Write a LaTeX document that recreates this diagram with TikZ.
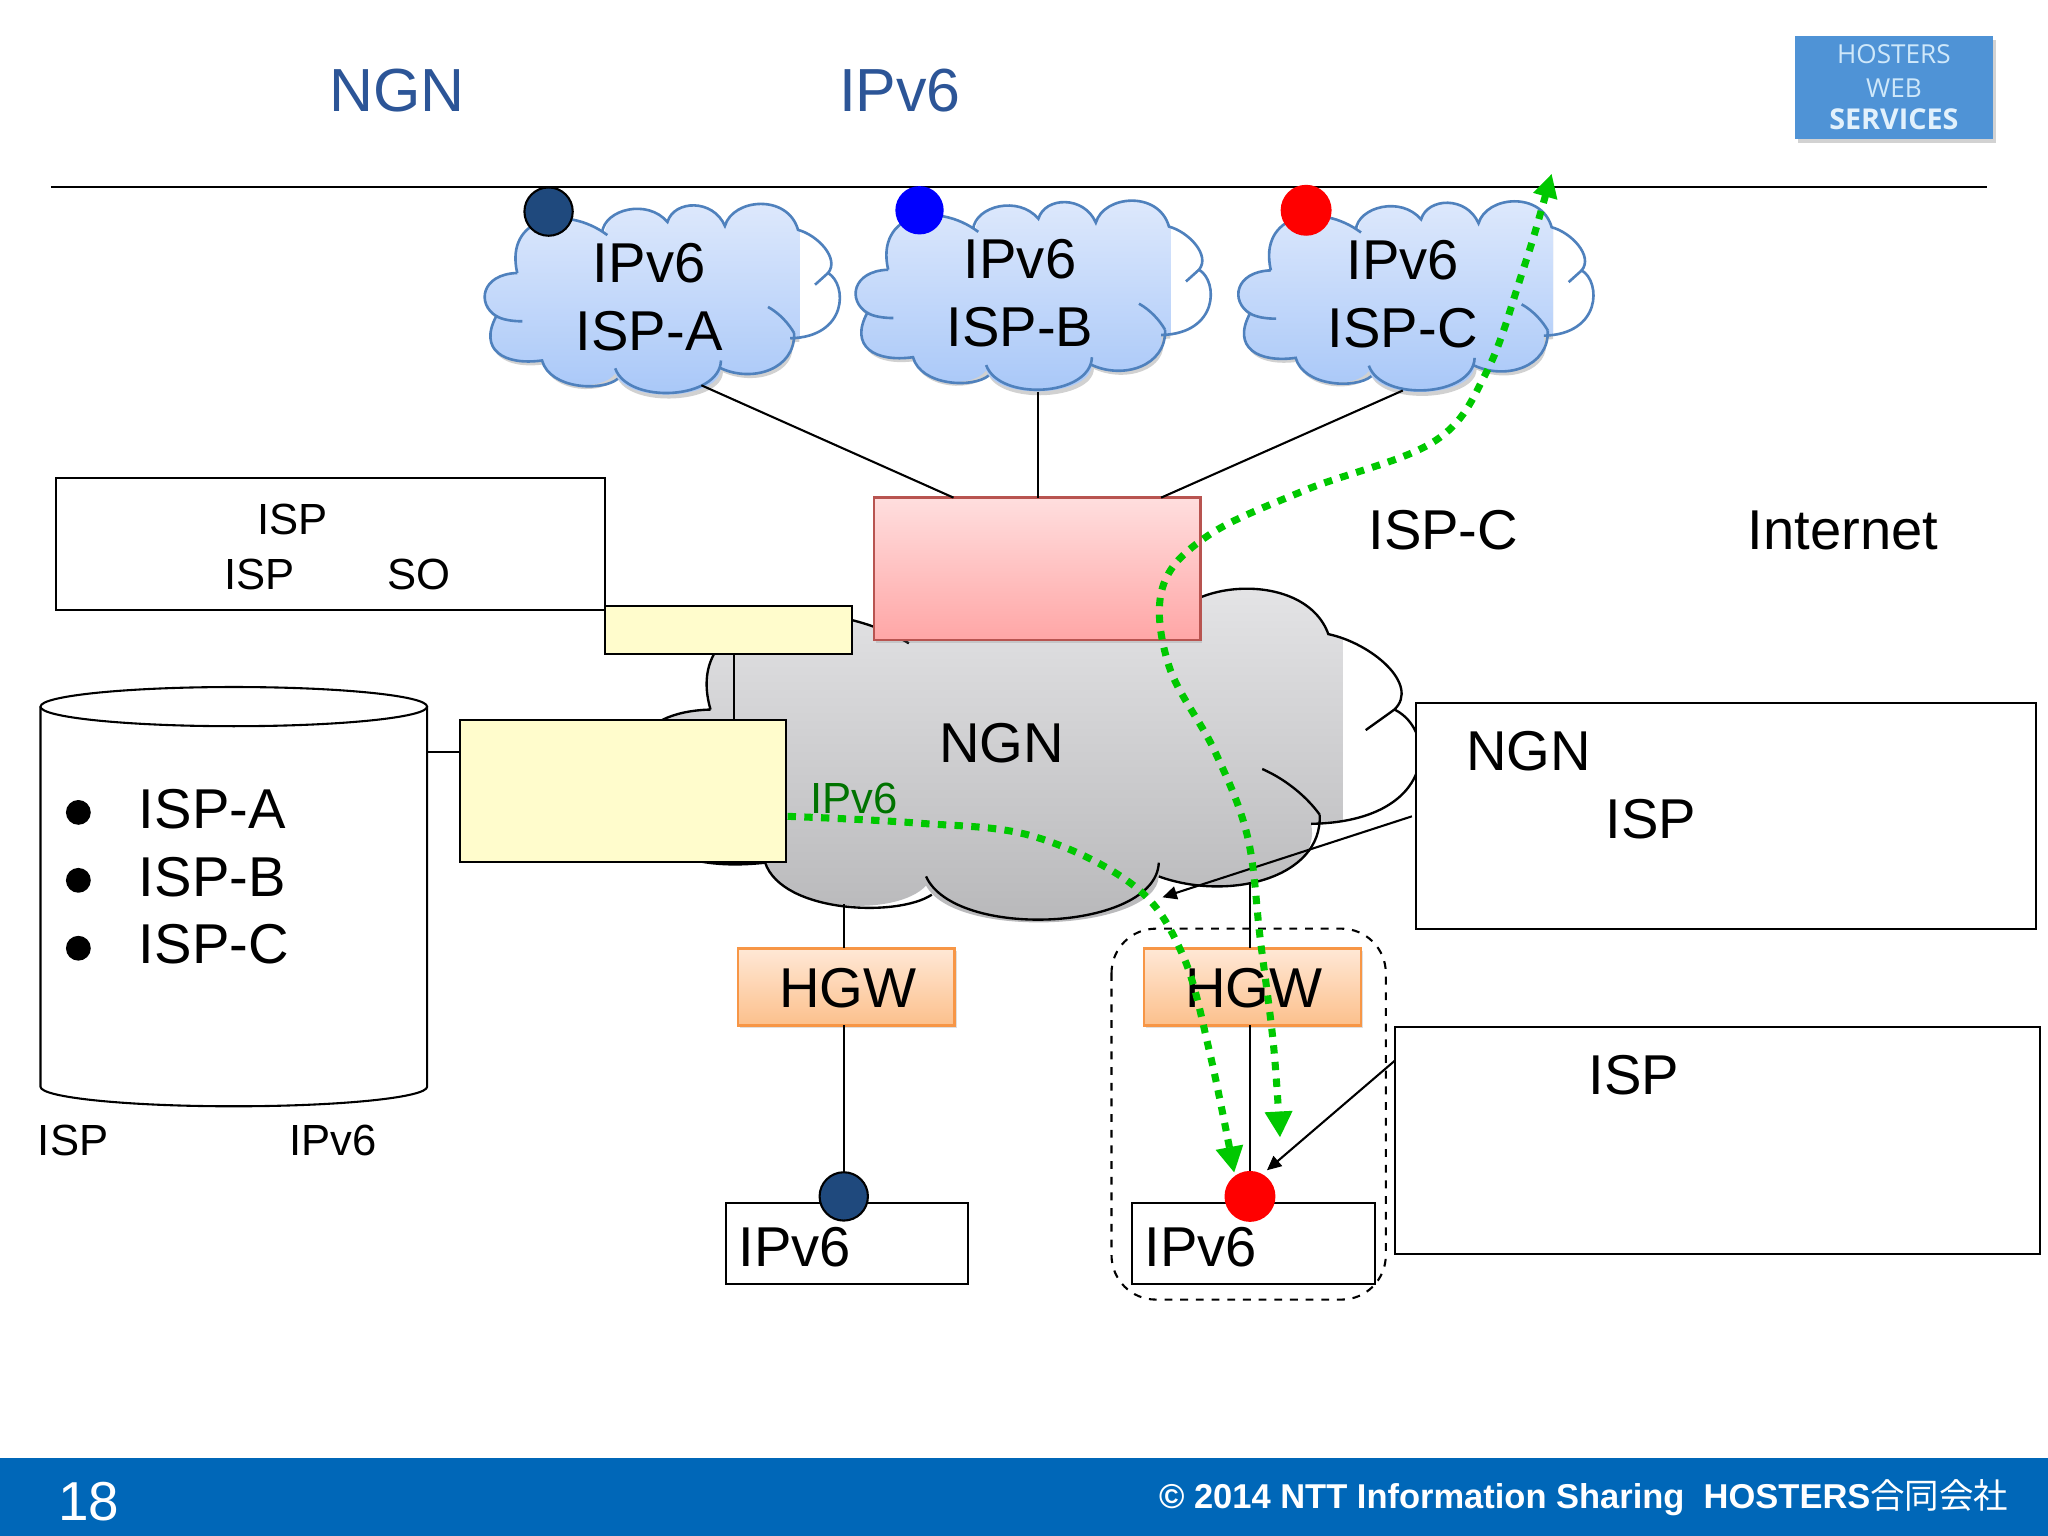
\documentclass[tikz,border=0pt]{standalone}
\usepackage{fontspec}
\setmainfont{Liberation Sans}
\newfontfamily\cjkjp{Noto Sans CJK JP}
\newfontfamily\logofont{Open Sans}
\usetikzlibrary{arrows.meta,shadows,calc}
\newcommand{\cloudshape}{(25,51)
 .. controls (15,8) and (62,-2) .. (94,22)
 (90,20) .. controls (92,2) and (125,-6) .. (140,12)
 .. controls (145,-5) and (175,-6) .. (184,15)
 .. controls (190,-6) and (232,-10) .. (240,18)
 .. controls (255,22) and (272,40) .. (263,51)
 .. controls (278,60) and (278,100) .. (234,101)
 (237,97) .. controls (238,125) and (205,135) .. (181,124)
 (181,118) .. controls (180,148) and (110,152) .. (100,124)
 (102,132) .. controls (90,142) and (50,140) .. (44,118)
 .. controls (15,122) and (-5,110) .. (9,84)
 .. controls (-6,75) and (-3,52) .. (25,51)}
\newcommand{\cloudfillshape}{(25,51)
 .. controls (15,8) and (62,-2) .. (92,21)
 .. controls (92,2) and (125,-6) .. (140,12)
 .. controls (145,-5) and (175,-6) .. (184,15)
 .. controls (190,-6) and (232,-10) .. (240,18)
 .. controls (255,22) and (272,40) .. (263,51)
 .. controls (278,60) and (278,100) .. (234,101)
 .. controls (238,125) and (205,135) .. (181,124)
 .. controls (180,148) and (110,152) .. (100,128)
 .. controls (90,142) and (50,140) .. (44,118)
 .. controls (15,122) and (-5,110) .. (9,84)
 .. controls (-6,75) and (-3,52) .. (25,51) -- cycle}
\newcommand{\cloudticks}{(217,77) .. controls (226,82) and (233,90) .. (237,97)
 (29,88) .. controls (22,88) and (14,87) .. (9,84)
 (253,60) -- (263,51)}
\tikzset{
 x=0.5pt,y=-0.5pt,
 plainbox/.style={draw=black,line width=.8pt,fill=white,inner sep=0pt,outer sep=0pt},
 yellowbox/.style={plainbox,fill=yellow!20!white},
 txtL/.style={anchor=base,inner sep=0pt,font=\fontsize{21.5}{24}\selectfont},
 txtLw/.style={anchor=base west,inner sep=0pt,font=\fontsize{21.5}{24}\selectfont},
 txtS/.style={anchor=base,inner sep=0pt,font=\fontsize{16.7}{20}\selectfont},
 title/.style={anchor=base,inner sep=0pt,font=\fontsize{23.3}{26}\selectfont,text=titleblue},
 hgwbox/.style={draw=hgwedge,line width=1pt,top color=hgwtop,bottom color=hgwbot,inner sep=0pt,outer sep=0pt,
   minimum width=83pt,minimum height=29.5pt,drop shadow={shadow xshift=.8pt,shadow yshift=-1.2pt,opacity=.25}},
 wire/.style={draw=black,line width=.8pt},
 thinarrow/.style={wire,-{Triangle[length=5.5pt,width=5pt]}},
 greenpath/.style={draw=flowgreen,line width=2.7pt,dash pattern=on 3.2pt off 3.2pt},
 dot/.style={circle,inner sep=0pt,outer sep=0pt},
}
\definecolor{titleblue}{HTML}{2C5597}
\definecolor{navy}{HTML}{1F497D}
\definecolor{hgwedge}{HTML}{F79646}
\definecolor{hgwtop}{HTML}{FFE8D6}
\definecolor{hgwbot}{HTML}{FCC08C}
\definecolor{flowgreen}{HTML}{00C800}
\definecolor{cloudedge}{HTML}{4F81BD}
\definecolor{cloudtop}{HTML}{E0EAFC}
\definecolor{cloudbot}{HTML}{A6C6F8}
\definecolor{footblue}{HTML}{0067B8}
\definecolor{logoblue}{HTML}{4F93D6}
\definecolor{logotxt}{HTML}{CFE8FA}
\definecolor{pinkedge}{HTML}{B85450}
\definecolor{pinktop}{HTML}{FFDEDE}
\definecolor{pinkbot}{HTML}{FFA6A6}
\definecolor{ngntop}{HTML}{E6E6E8}
\definecolor{ngnbot}{HTML}{B6B6B8}
\newcommand{\bluecloud}[2]{%
 \begin{scope}[shift={(#1,#2)}]
  \begin{scope}
   \clip (-10,-20) rectangle (241,160);
   \fill[black,opacity=.18,shift={(1.5,3)}] \cloudfillshape;
   \path[top color=cloudtop,bottom color=cloudbot] \cloudfillshape;
  \end{scope}
  \draw[cloudedge,line width=1pt] \cloudshape;
  \draw[cloudedge,line width=1pt] \cloudticks;
 \end{scope}}
\begin{document}
\begin{tikzpicture}
\useasboundingbox (0,0) rectangle (1568,1176);
\fill[white] (0,0) rectangle (1568,1176);

% footer
\node[fill=footblue,minimum width=784pt,minimum height=30pt,inner sep=0pt,outer sep=0pt,anchor=north west] (footer) at (0,1116) {};
\node[anchor=base,inner sep=0pt,text=white,font=\fontsize{21}{24}\selectfont] (pageno) at (68,1164) {18};
\node[anchor=base east,inner sep=0pt,text=white,font=\bfseries\fontsize{13.2}{16}\selectfont] (copyright) at (1538,1155) {© 2014 NTT Information Sharing\ \ HOSTERS{\cjkjp\mdseries 合同会社}};

% titles
\node[title] (t1) at (304,85) {NGN};
\node[title] (t2) at (689,85) {IPv6};
\coordinate (ruleL) at (39,143.5);
\coordinate (ruleR) at (1521,143.5);
\draw[wire] (ruleL) -- (ruleR);

% logo
\node[fill=logoblue,minimum width=76pt,minimum height=39.5pt,inner sep=0pt,outer sep=0pt,
  drop shadow={shadow xshift=1.2pt,shadow yshift=-1.5pt,opacity=.35}] (logo) at (1450,67) {};
\node[anchor=base,inner sep=0pt,text=logotxt,font=\logofont\fontsize{10}{12}\selectfont] (logo1) at (1450,49) {HOSTERS};
\node[anchor=base,inner sep=0pt,text=logotxt,font=\logofont\fontsize{10}{12}\selectfont] (logo2) at (1450,75) {WEB};
\node[anchor=base,inner sep=0pt,text=logotxt!60!white,font=\logofont\bfseries\fontsize{11}{12}\selectfont] (logo3) at (1450,99) {SERVICES};

% NGN cloud
\begin{scope}[shift={(489,454)},xscale=2.2,yscale=1.75]
 \begin{scope}
  \clip (-10,-20) rectangle (245,160);
  \path[top color=ngntop,bottom color=ngnbot] \cloudfillshape;
 \end{scope}
 \draw[black,line width=.9pt] \cloudshape;
 \draw[black,line width=.9pt] \cloudticks;
\end{scope}

% small clouds
\bluecloud{371}{158}
\bluecloud{655}{155.5}
\bluecloud{948}{156}
\node[txtL] (ca1) at (497,216) {IPv6};
\node[txtL] (ca2) at (497,268) {ISP-A};
\node[txtL] (cb1) at (781,213) {IPv6};
\node[txtL] (cb2) at (781,265) {ISP-B};
\node[txtL] (cc1) at (1074,214) {IPv6};
\node[txtL] (cc2) at (1074,266) {ISP-C};
\node[dot,fill=navy,draw=black,line width=.8pt,minimum size=18.5pt] (dotA) at (420,162) {};
\node[dot,fill=blue,minimum size=18.5pt] (dotB) at (704,161) {};
\node[dot,fill=red,minimum size=19.5pt] (dotC) at (1000,161) {};

% pink router
\node[draw=pinkedge,line width=1pt,top color=pinktop,bottom color=pinkbot,inner sep=0pt,outer sep=0pt,
  minimum width=125pt,minimum height=54.5pt,drop shadow={shadow xshift=.8pt,shadow yshift=-1.2pt,opacity=.25}] (router) at (794,435.5) {};
\coordinate (footA) at (537,295);
\coordinate (footB) at (795,300);
\coordinate (footC) at (1074,299);
\coordinate (rA) at (730,381);
\coordinate (rB) at (795,381);
\coordinate (rC) at (889,381);
\draw[wire] (footA) -- (rA);
\draw[wire] (footB) -- (rB);
\draw[wire] (footC) -- (rC);

% boxes left
\node[plainbox,minimum width=210pt,minimum height=50.5pt] (ispbox) at (253,416.5) {};
\node[txtS] (i1) at (224,409) {ISP};
\node[txtS] (i2) at (199,451) {ISP};
\node[txtS] (i3) at (321,451) {SO};
\node[yellowbox,minimum width=94.5pt,minimum height=18.5pt] (ysmall) at (557.5,482.5) {};
\node[yellowbox,minimum width=125pt,minimum height=54.5pt] (ybig) at (477,605.5) {};
\coordinate (ysmallB) at (562,501);
\coordinate (ybigT) at (562,551);
\draw[wire] (ysmallB) -- (ybigT);

% database
\draw[wire,fill=white] (31,541) -- (31,832) arc[start angle=180,end angle=360,x radius=74pt,y radius=7.5pt] -- (327,541);
\draw[wire,fill=white] (179,541) ellipse[x radius=74pt,y radius=7.5pt];
\coordinate (dbport) at (327,576);
\coordinate (ybigL) at (352,576);
\draw[wire] (dbport) -- (ybigL);
\node[dot,fill=black,minimum size=9.5pt] (b1) at (60,622) {};
\node[dot,fill=black,minimum size=9.5pt] (b2) at (60,674) {};
\node[dot,fill=black,minimum size=9.5pt] (b3) at (60,726) {};
\node[txtLw] (l1) at (106,634) {ISP-A};
\node[txtLw] (l2) at (106,686) {ISP-B};
\node[txtLw] (l3) at (106,738) {ISP-C};
\node[txtS] (d1) at (56,885) {ISP};
\node[txtS] (d2) at (255,885) {IPv6};

% right side
\node[txtL] (tc) at (1105,421) {ISP-C};
\node[txtL] (tn) at (1411,421) {Internet};
\node[plainbox,minimum width=237.5pt,minimum height=86.5pt] (rbox1) at (1321.5,624.5) {};
\node[txtLw] (r1) at (1122,590) {NGN};
\node[txtLw] (r2) at (1229,642) {ISP};
\node[plainbox,minimum width=247pt,minimum height=87pt] (rbox2) at (1315,873) {};
\node[txtLw] (r3) at (1216,838) {ISP};
\node[txtL] (ngnlbl) at (767,584) {NGN};

% dashed group
\draw[black,line width=.8pt,dashed,rounded corners=17pt] (851,711) rectangle (1061,995);

% lower branch
\node[hgwbox] (hgw1) at (648,755.5) {};
\node[hgwbox] (hgw2) at (959,755.5) {};
\node[txtL] (h1) at (649,771) {HGW};
\node[txtL] (h2) at (960,771) {HGW};
\node[plainbox,minimum width=92.5pt,minimum height=31pt] (pc1) at (648.5,952) {};
\node[plainbox,minimum width=93pt,minimum height=31pt] (pc2) at (960,952) {};
\node[txtLw] (p1) at (565,970) {IPv6};
\node[txtLw] (p2) at (876,970) {IPv6};
\node[dot,fill=navy,draw=black,line width=.8pt,minimum size=18.5pt] (dot1) at (646,916) {};
\node[dot,fill=red,minimum size=19.5pt] (dot2) at (957,916) {};
\coordinate (n1) at (646,692);
\coordinate (h1t) at (646,726);
\coordinate (h1b) at (646,785);
\coordinate (n2) at (957,676);
\coordinate (h2t) at (957,726);
\coordinate (h2b) at (957,785);
\draw[wire] (n1) -- (h1t);
\draw[wire] (h1b) -- (dot1.north);
\draw[wire] (n2) -- (h2t);
\draw[wire] (h2b) -- (dot2.north);

% black arrows
\coordinate (rb1p) at (1081,625);
\coordinate (ngnp) at (890,687);
\coordinate (rb2p) at (1068,812);
\coordinate (dot2p) at (970,896);
\draw[thinarrow] (rb1p) -- (ngnp);
\draw[thinarrow] (rb2p) -- (dot2p);

% green flows
\node[anchor=base,inner sep=0pt,text=green!45!black,font=\fontsize{16.7}{20}\selectfont] (g6) at (654,623) {IPv6};
\coordinate (gs) at (603,625);
\coordinate (ge) at (945,898);
\draw[greenpath,-{Triangle[length=10pt,width=10pt]}] plot[smooth,tension=.6] coordinates {(gs) (700,630) (790,640) (868,678) (905,730) (926,805) (ge)};
\coordinate (ga) at (1188,133);
\coordinate (gb) at (980,871);
\draw[greenpath,{Triangle[length=9pt,width=9pt]}-{Triangle[length=10pt,width=10pt]}] plot[smooth,tension=.6] coordinates {(ga) (1165,210) (1138,285) (1098,338) (1000,375) (925,410) (890,450) (895,510) (930,575) (955,640) (965,720) (975,800) (gb)};
\end{tikzpicture}
\end{document}
